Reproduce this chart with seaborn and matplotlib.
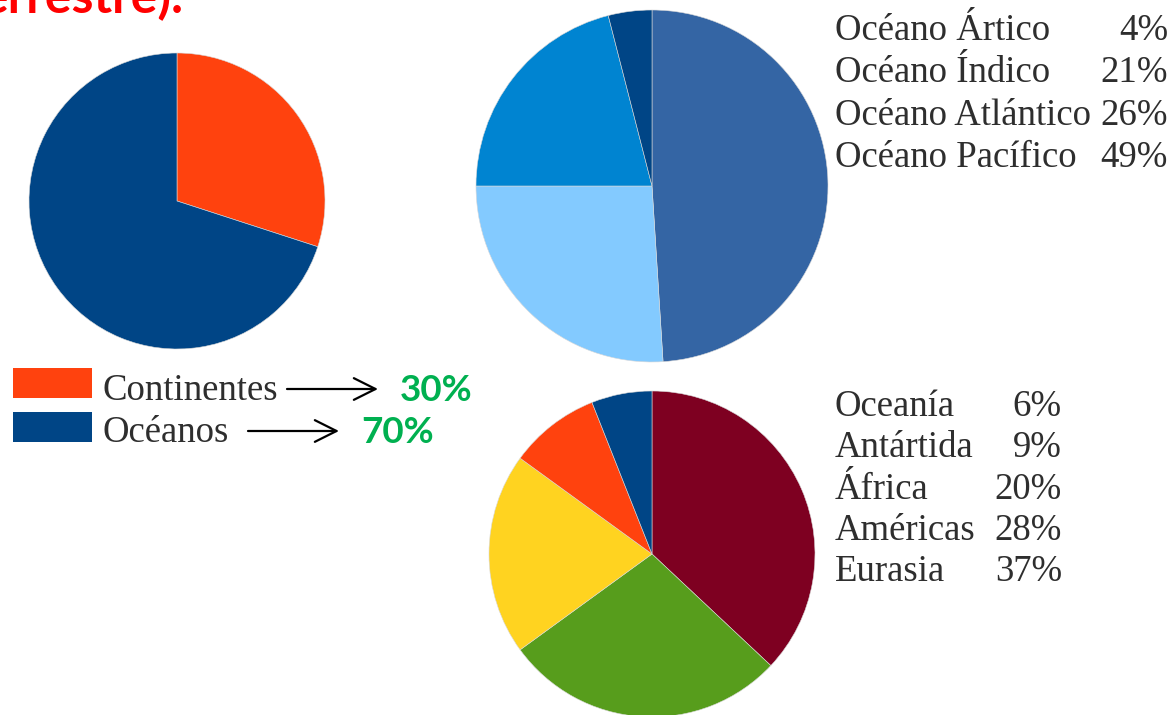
import matplotlib
matplotlib.use("Agg")
import matplotlib.pyplot as plt
from matplotlib.patches import Rectangle
import seaborn as sns

# ---------------- data ----------------
land_labels = ["Continentes", "Océanos"]
land_values = [30, 70]
land_colors = ["#ff420e", "#004586"]

ocean_labels = ["Océano Pacífico", "Océano Atlántico", "Océano Índico", "Océano Ártico"]
ocean_values = [49, 26, 21, 4]
ocean_colors = ["#3465a4", "#83caff", "#0084d1", "#004586"]

cont_labels = ["Eurasia", "Américas", "África", "Antártida", "Oceanía"]
cont_values = [37, 28, 20, 9, 6]
cont_colors = ["#7e0021", "#579d1c", "#ffd320", "#ff420e", "#004586"]

title_text = "errestre)."

# ---------------- figure ----------------
sns.set_theme(style="white")
plt.rcParams["font.family"] = ["Liberation Serif", "DejaVu Serif"]

W, H = 1176, 715
fig = plt.figure(figsize=(W / 100, H / 100), dpi=100)
ax = fig.add_axes([0, 0, 1, 1])


def Y(y):  # pixel row -> data y
    return H - y


def draw_pie(values, colors, cx, cy, r, clip_top=None):
    wedges, _ = ax.pie(values, colors=colors, startangle=90, counterclock=False,
                       center=(cx, Y(cy)), radius=r, frame=True,
                       wedgeprops=dict(linewidth=0.4, edgecolor="#d8d8d8"))
    if clip_top is not None:
        clip = Rectangle((0, 0), W, Y(clip_top), transform=ax.transData)
        for w in wedges:
            w.set_clip_path(clip)
    return wedges


draw_pie(land_values, land_colors, 177, 201, 148, clip_top=53)
draw_pie(ocean_values, ocean_colors, 652, 186, 176)
draw_pie(cont_values, cont_colors, 652, 554, 163)

ax.set_xlim(0, W)
ax.set_ylim(0, H)
ax.set_aspect("auto")
ax.axis("off")

txt_kw = dict(fontsize=26.5, color="#2e2e2e", va="baseline")

# ocean legend (listed from smallest)
for i, (lab, val) in enumerate(zip(ocean_labels[::-1], ocean_values[::-1])):
    yb = 40 + i * 42.3
    ax.text(835, Y(yb), lab, ha="left", **txt_kw)
    ax.text(1168, Y(yb), f"{val}%", ha="right", **txt_kw)

# continent legend
for i, (lab, val) in enumerate(zip(cont_labels[::-1], cont_values[::-1])):
    yb = 416 + i * 41.3
    ax.text(835, Y(yb), lab, ha="left", **txt_kw)
    ax.text(1062, Y(yb), f"{val}%", ha="right", **txt_kw)

# land/ocean legend with swatches
box_tops = [368, 412]
baselines = [400, 442]
for lab, col, bt, yb in zip(land_labels, land_colors, box_tops, baselines):
    ax.add_patch(Rectangle((13, Y(bt + 30)), 79, 30, color=col, lw=0))
    ax.text(103, Y(yb), lab, ha="left", **txt_kw)

# arrows and green percentages
arrow_start = [287, 248]
arrow_end = [378, 339]
arrow_y = [389, 431]
pct_x = [400, 361]
for v, xs, xe, ya, px, yb in zip(land_values, arrow_start, arrow_end, arrow_y, pct_x, baselines):
    ax.annotate("", xy=(xe, Y(ya)), xytext=(xs, Y(ya)),
                arrowprops=dict(arrowstyle="->,head_length=1.3,head_width=0.65",
                                lw=1.6, color="black", shrinkA=0, shrinkB=0))
    ax.text(px, Y(yb + 1), f"{v}%", ha="left", va="baseline", fontsize=26.5,
            fontweight="bold", color="#00b050", family=["Lato", "DejaVu Sans"])

# cut-off title (cropped at the top edge, as in the reference)
ax.text(-19, Y(13), title_text, ha="left", va="baseline", fontsize=36,
        fontweight="bold", color="#ff0000", family=["Lato", "DejaVu Sans"])

fig.savefig("out.png", dpi=100)
